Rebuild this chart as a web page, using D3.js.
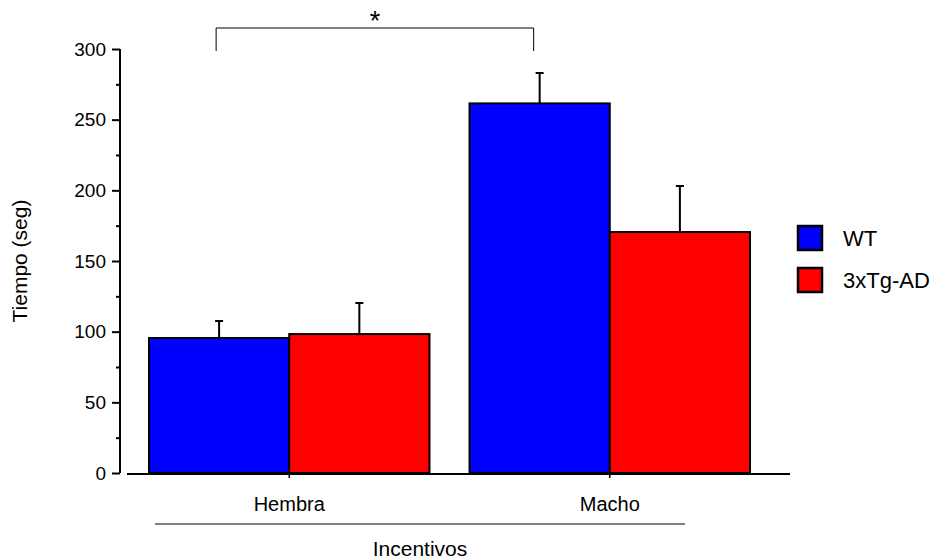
<!DOCTYPE html>
<html>
<head>
<meta charset="utf-8">
<script src="https://cdn.jsdelivr.net/npm/d3@7"></script>
<style>
  body { margin: 0; background: #fff; }
  text { font-family: "Liberation Sans", Arial, sans-serif; fill: #000; }
</style>
</head>
<body>
<div id="chart"></div>
<script>
// data
var groups = ["Hembra", "Macho"];
var series = ["WT", "3xTg-AD"];
var colors = ["#0000ff", "#ff0000"];
var means = [[95.5, 98.3], [261.5, 170.5]];
var errors = [[12, 22], [21.5, 32.5]];
var yTicks = [0, 50, 100, 150, 200, 250, 300];
var yMinor = [25, 75, 125, 175, 225, 275];

var W = 943, H = 559;

var svg = d3.select("#chart")
    .append("svg")
    .attr("width", W)
    .attr("height", H);

// scales
var y = d3.scaleLinear().domain([0, 300]).range([473, 49]);

var x = d3.scaleBand()
    .domain(groups)
    .range([149, 750])
    .paddingInner(0.125);

var xs = d3.scaleBand()
    .domain(series)
    .range([0, x.bandwidth()]);

// Y axis
var yAxis = svg.append("g")
    .attr("transform", "translate(120,0)")
    .call(d3.axisLeft(y).tickValues(yTicks).tickSize(8).tickPadding(6));
yAxis.select(".domain").attr("stroke-width", 2).attr("d", "M0," + y(300) + "V" + y(0));
yAxis.selectAll(".tick line").attr("stroke-width", 2);
yAxis.selectAll("text").attr("font-size", 19).style("font-family", "Liberation Sans, Arial, sans-serif");

var yAxisMinor = svg.append("g")
    .attr("transform", "translate(120,0)")
    .call(d3.axisLeft(y).tickValues(yMinor).tickSize(4).tickFormat(""));
yAxisMinor.select(".domain").remove();
yAxisMinor.selectAll(".tick line").attr("stroke-width", 2);

// bars
var gGroups = svg.append("g")
  .selectAll("g")
  .data(groups)
  .enter()
  .append("g")
    .attr("transform", function(d) { return "translate(" + x(d) + ",0)"; });

gGroups.selectAll("rect")
  .data(function(d, i) { return means[i].map(function(v, j) { return {s: series[j], v: v, e: errors[i][j], c: colors[j]}; }); })
  .enter()
  .append("rect")
    .attr("x", function(d) { return xs(d.s); })
    .attr("y", function(d) { return y(d.v); })
    .attr("width", xs.bandwidth())
    .attr("height", function(d) { return y(0) - y(d.v); })
    .attr("fill", function(d) { return d.c; })
    .attr("stroke", "#000")
    .attr("stroke-width", 2);

// error bars
gGroups.selectAll(".err")
  .data(function(d, i) { return means[i].map(function(v, j) { return {s: series[j], v: v, e: errors[i][j]}; }); })
  .enter()
  .append("path")
    .attr("class", "err")
    .attr("fill", "none")
    .attr("stroke", "#000")
    .attr("stroke-width", 2)
    .attr("d", function(d) {
      var cx = xs(d.s) + xs.bandwidth() / 2;
      return "M" + cx + "," + y(d.v) + "V" + y(d.v + d.e) + "M" + (cx - 4) + "," + y(d.v + d.e) + "H" + (cx + 4);
    });

// X axis
svg.append("line")
    .attr("x1", 127).attr("x2", 790)
    .attr("y1", y(0) + 1).attr("y2", y(0) + 1)
    .attr("stroke", "#000").attr("stroke-width", 2);

var xAxis = svg.append("g")
    .attr("transform", "translate(0," + (y(0) + 1) + ")")
    .call(d3.axisBottom(x).tickSize(4).tickPadding(19));
xAxis.select(".domain").remove();
xAxis.selectAll(".tick line").attr("stroke-width", 1.5);
xAxis.selectAll("text").attr("font-size", 20).style("font-family", "Liberation Sans, Arial, sans-serif");

// group title
svg.append("line")
    .attr("x1", 155).attr("x2", 685)
    .attr("y1", 524).attr("y2", 524)
    .attr("stroke", "#000").attr("stroke-width", 1);

svg.append("text")
    .attr("x", 420)
    .attr("y", 556)
    .attr("text-anchor", "middle")
    .attr("font-size", 21)
    .text("Incentivos");

// y title
svg.append("text")
    .attr("transform", "translate(27," + ((y(0) + y(300)) / 2) + ") rotate(-90)")
    .attr("text-anchor", "middle")
    .attr("font-size", 21)
    .text("Tiempo (seg)");

// significance bracket
var bx1 = x("Hembra") + xs("WT") + xs.bandwidth() / 2 - 3;
var bx2 = x("Macho") + xs("WT") + xs.bandwidth() / 2 - 6;
svg.append("path")
    .attr("fill", "none")
    .attr("stroke", "#000")
    .attr("stroke-width", 1)
    .attr("d", "M" + bx1 + ",51V28H" + bx2 + "V51");
svg.append("text")
    .attr("x", (bx1 + bx2) / 2)
    .attr("y", 30)
    .attr("text-anchor", "middle")
    .attr("font-size", 27)
    .text("*");

// legend
var legend = svg.append("g")
  .selectAll("g")
  .data(series)
  .enter()
  .append("g")
    .attr("transform", function(d, i) { return "translate(798," + (226 + i * 42) + ")"; });

legend.append("rect")
    .attr("width", 24)
    .attr("height", 24)
    .attr("fill", function(d, i) { return colors[i]; })
    .attr("stroke", "#000")
    .attr("stroke-width", 2.5);

legend.append("text")
    .attr("x", 45)
    .attr("y", 20)
    .attr("font-size", 22)
    .text(function(d) { return d; });
</script>
</body>
</html>
